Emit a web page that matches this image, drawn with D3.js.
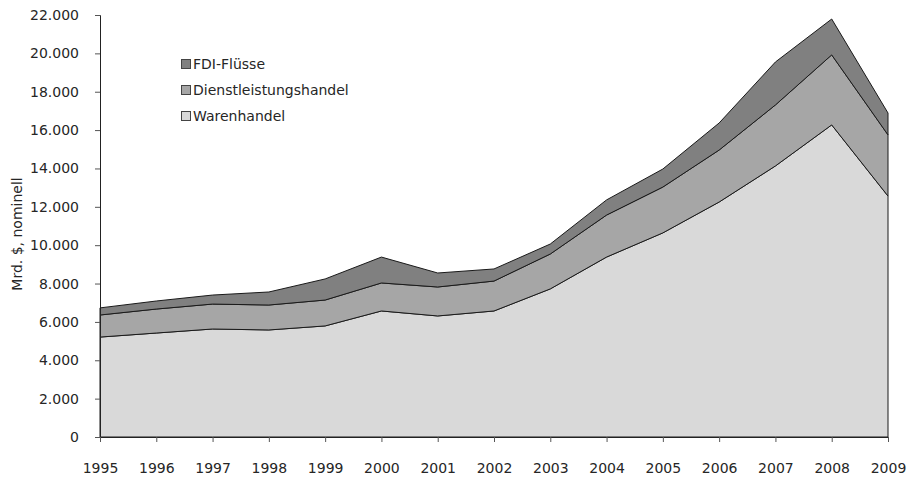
<!DOCTYPE html>
<html><head><meta charset="utf-8">
<script src="https://cdn.jsdelivr.net/npm/d3@7"></script>
<style>body{margin:0;background:#fff}svg{display:block}text{font-family:"DejaVu Sans",sans-serif;fill:#262626}</style>
</head><body><svg id="c" width="916" height="477"></svg>
<script>
const years = [1995,1996,1997,1998,1999,2000,2001,2002,2003,2004,2005,2006,2007,2008,2009];
const warenhandel = [5210,5420,5630,5580,5790,6570,6310,6570,7720,9380,10640,12250,14130,16270,12560];
const dienstleistungshandel = [1150,1250,1300,1300,1350,1460,1510,1560,1820,2190,2390,2710,3180,3650,3190];
const fdiFluesse = [370,420,470,680,1100,1350,730,630,520,790,940,1410,2240,1870,1140];
const seriesNames = ["Warenhandel","Dienstleistungshandel","FDI-Flüsse"];
const colors = ["#d9d9d9","#a6a6a6","#808080"];
const yTicks = [0,2000,4000,6000,8000,10000,12000,14000,16000,18000,20000,22000];

const svg = d3.select("#c");
const x = d3.scaleLinear().domain([1995,2009]).range([100,888]);
const y = d3.scaleLinear().domain([0,22000]).range([437,15]);

const rows = years.map((yr,i)=>({year:yr, Warenhandel:warenhandel[i], Dienstleistungshandel:dienstleistungshandel[i], "FDI-Flüsse":fdiFluesse[i]}));
const stack = d3.stack().keys(seriesNames)(rows);
const area = d3.area().x(d=>x(d.data.year)).y0(d=>y(d[0])).y1(d=>y(d[1]));

svg.append("g").selectAll("path").data(stack).join("path")
  .attr("d",area).attr("fill",(d,i)=>colors[i]).attr("stroke","#1a1a1a").attr("stroke-width",1);

// axes
const fmt = v => v===0 ? "0" : d3.format(",")(v).replace(/,/g,".");
const ya = svg.append("g").attr("transform","translate(100,0)")
  .call(d3.axisLeft(y).tickValues(yTicks).tickFormat(fmt).tickSize(5).tickPadding(16));
ya.select(".domain").attr("stroke","#222");
ya.selectAll(".tick line").attr("stroke","#555");
ya.selectAll("text").style("font-size","14px").attr("fill","#262626");

const xa = svg.append("g").attr("transform","translate(0,437)")
  .call(d3.axisBottom(x).tickValues(years).tickFormat(d3.format("d")).tickSize(5).tickPadding(21));
xa.select(".domain").attr("stroke","#222");
xa.selectAll(".tick line").attr("stroke","#555");
xa.selectAll("text").style("font-size","14px").attr("fill","#262626");

svg.append("text").attr("transform","translate(22,234) rotate(-90)")
  .attr("text-anchor","middle").style("font-size","14px").text("Mrd. $, nominell");

// legend
const legendOrder = [2,1,0];
const lg = svg.append("g");
legendOrder.forEach((si,k)=>{
  const cy = 64 + k*26;
  lg.append("rect").attr("x",181.5).attr("y",cy-4.5).attr("width",9).attr("height",9)
    .attr("fill",colors[si]).attr("stroke","#444").attr("stroke-width",1);
  lg.append("text").attr("x",193).attr("y",cy+5).style("font-size","14px").text(seriesNames[si]);
});
</script></body></html>
